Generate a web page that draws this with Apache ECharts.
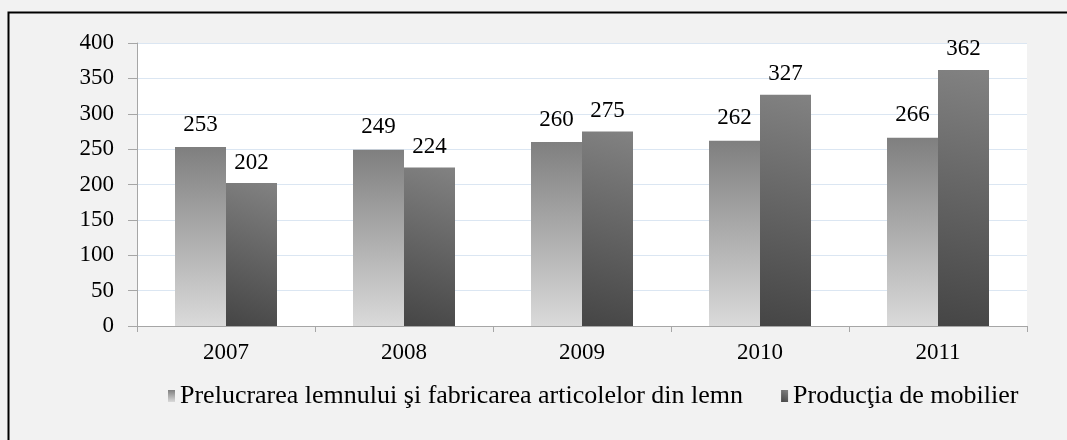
<!DOCTYPE html>
<html>
<head>
<meta charset="utf-8">
<style>
  html, body { margin: 0; padding: 0; background: #f2f2f2; }
  #chart { width: 1067px; height: 440px; }
</style>
<script src="https://cdn.jsdelivr.net/npm/echarts@6/dist/echarts.min.js"></script>
</head>
<body>
<div id="chart"></div>
<script>
const years = ['2007', '2008', '2009', '2010', '2011']
const lemnValues = [253, 249, 260, 262, 266]
const mobilierValues = [202, 224, 275, 327, 362]
const seriesNames = ['Prelucrarea lemnului şi fabricarea articolelor din lemn', 'Producţia de mobilier']

const serif = '"Liberation Serif", "DejaVu Serif", serif'

const chart = echarts.init(document.getElementById('chart'))

// light grey fades down, dark grey goes diagonal
const lemnColor = new echarts.graphic.LinearGradient(0, 0, 0, 1, [
  { offset: 0, color: '#7f7f7f' },
  { offset: 1, color: '#dadada' }
])
const mobilierColor = new echarts.graphic.LinearGradient(0, 1, 1, 0, [
  { offset: 0, color: '#454545' },
  { offset: 1, color: '#828282' }
])

const option = {
  backgroundColor: '#f2f2f2',
  animation: false,
  graphic: [
    {
      type: 'rect',
      shape: { x: 8.5, y: 12.5, width: 1070, height: 440 },
      style: { fill: 'none', stroke: '#000', lineWidth: 2 },
      silent: true
    }
  ],
  grid: {
    left: 137,
    right: 40,
    top: 43,
    height: 283,
    show: true,
    backgroundColor: '#ffffff',
    borderWidth: 0
  },
  legend: {
    data: seriesNames,
    left: 163,
    top: 378,
    itemWidth: 7,
    itemHeight: 12,
    itemGap: 38,
    icon: 'rect',
    textStyle: { fontFamily: serif, fontSize: 26, color: '#000' }
  },
  xAxis: {
    type: 'category',
    data: years,
    axisLine: { lineStyle: { color: '#a6a6a6' } },
    axisTick: { show: true, length: 6, lineStyle: { color: '#a6a6a6' } },
    axisLabel: { fontFamily: serif, fontSize: 23, color: '#000', margin: 15 }
  },
  yAxis: {
    type: 'value',
    min: 0,
    max: 400,
    interval: 50,
    axisLine: { show: true, lineStyle: { color: '#a6a6a6' } },
    axisTick: { show: true, length: 9, lineStyle: { color: '#a6a6a6' } },
    axisLabel: { fontFamily: serif, fontSize: 23, color: '#000', margin: 23 },
    splitLine: { lineStyle: { color: '#dbe6f2' } }
  },
  series: [
    {
      name: seriesNames[0],
      type: 'bar',
      data: lemnValues,
      barWidth: 51,
      barGap: '0%',
      itemStyle: { color: lemnColor },
      label: {
        show: true,
        position: 'top',
        distance: 11,
        fontFamily: serif,
        fontSize: 23,
        color: '#000'
      }
    },
    {
      name: seriesNames[1],
      type: 'bar',
      data: mobilierValues,
      barWidth: 51,
      barGap: '0%',
      itemStyle: { color: mobilierColor },
      label: {
        show: true,
        position: 'top',
        distance: 9,
        fontFamily: serif,
        fontSize: 23,
        color: '#000'
      }
    }
  ]
}

chart.setOption(option)
</script>
</body>
</html>
